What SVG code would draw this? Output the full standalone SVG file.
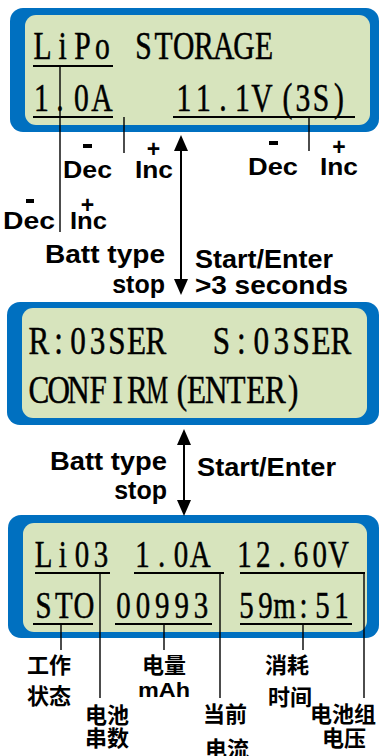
<svg xmlns="http://www.w3.org/2000/svg" width="380" height="756" viewBox="0 0 380 756">
<style>
.outer{fill:#0070C0}
.inner{fill:#D7E4BD}
.lcd{font-family:"Liberation Serif","Times New Roman",serif;fill:#000;stroke:#000;stroke-width:0.5;text-anchor:middle}
.ul{stroke:#000;stroke-width:2.2;fill:none}
.ln{stroke:#000;stroke-width:1.4;fill:none}
.lbl{font-family:"Liberation Sans",Arial,sans-serif;font-weight:bold;fill:#000}
.cjk{font-family:"Noto Sans CJK SC","Noto Sans",sans-serif;font-weight:bold;font-size:22px;fill:#000}
.arr{stroke:#000;stroke-width:2;fill:none;marker-start:url(#ah);marker-end:url(#ah)}
</style>
<defs>
<marker id="ah" viewBox="0 0 16 14" refX="2" refY="7" markerWidth="16" markerHeight="14" markerUnits="userSpaceOnUse" orient="auto-start-reverse">
<path d="M0,0 L16,7 L0,14 Z" fill="#000"/>
</marker>
</defs>

<g id="panel1">
<rect class="outer" x="10" y="8" width="369" height="124" rx="13"/>
<rect class="inner" x="25" y="15" width="345" height="110" rx="11"/>
<text class="lcd" transform="scale(0.76,1)" font-size="39" y="59" x="55.92 82.24 108.55 134.87">LiPo</text>
<text class="lcd" transform="scale(0.76,1)" font-size="39" y="59" x="188.82 215.26 241.71 268.16 294.47 320.92 347.37">STORAGE</text>
<text class="lcd" transform="scale(0.76,1)" font-size="39" y="111" x="54.61 78.95 107.24 134.21">1.0A</text>
<text class="lcd" transform="scale(0.76,1)" font-size="39" y="111" x="242.11 267.76 293.42 319.08 344.74 378.29 398.68 422.37 446.05">11.1V(3S)</text>
<line class="ul" x1="33" y1="66" x2="113" y2="66"/>
<line class="ul" x1="33" y1="117" x2="113" y2="117"/>
<line class="ul" x1="173" y1="117" x2="355" y2="117"/>
</g>

<g id="panel2">
<rect class="outer" x="7" y="302" width="372" height="123" rx="13"/>
<rect class="inner" x="22" y="308" width="345" height="110" rx="11"/>
<text class="lcd" transform="scale(0.76,1)" font-size="41" y="354" x="51.32 76.97 102.63 128.29 153.95 179.61 205.26">R:03SER</text>
<text class="lcd" transform="scale(0.76,1)" font-size="41" y="354" x="291.45 317.63 343.82 370.0 396.18 422.37 448.68">S:03SER</text>
<text class="lcd" transform="scale(0.76,1)" font-size="41" y="403" x="51.32 77.24 103.16 129.08 155.0 180.92">CONFIR</text>
<text class="lcd" transform="scale(0.6,1)" font-size="41" y="403" x="262.0">M</text>
<text class="lcd" transform="scale(0.76,1)" font-size="41" y="403" x="239.34 258.68 284.61 310.53 336.45 362.37 385.66">(ENTER)</text>
</g>

<g id="panel3">
<rect class="outer" x="8" y="515" width="371" height="123" rx="13"/>
<rect class="inner" x="23" y="523" width="344" height="109" rx="11"/>
<text class="lcd" transform="scale(0.76,1)" font-size="38" y="567" x="57.24 82.5 107.76 133.03">Li03</text>
<text class="lcd" transform="scale(0.76,1)" font-size="38" y="567" x="187.5 212.76 238.03 263.29">1.0A</text>
<text class="lcd" transform="scale(0.76,1)" font-size="38" y="567" x="321.71 346.45 371.18 395.92 420.66 445.39">12.60V</text>
<text class="lcd" transform="scale(0.76,1)" font-size="38" y="618" x="57.24 83.88 110.53">STO</text>
<text class="lcd" transform="scale(0.76,1)" font-size="38" y="618" x="162.5 188.03 213.55 239.08 264.61">00993</text>
<text class="lcd" transform="scale(0.76,1)" font-size="38" y="618" x="324.34 349.34 374.34 399.34 424.34 449.34">59m:51</text>
<line class="ul" x1="35" y1="573" x2="110" y2="573"/>
<line class="ul" x1="134" y1="573" x2="224" y2="573"/>
<line class="ul" x1="240" y1="573" x2="365" y2="573"/>
<line class="ul" x1="33" y1="624" x2="93" y2="624"/>
<line class="ul" x1="115" y1="624" x2="212" y2="624"/>
<line class="ul" x1="240" y1="624" x2="352" y2="624"/>
</g>

<g id="connectors">
<line class="ln" x1="60" y1="66" x2="60" y2="232"/>
<line class="ln" x1="124" y1="117" x2="124" y2="153"/>
<line class="ln" x1="309" y1="117" x2="309" y2="151"/>
<line class="arr" x1="181" y1="149" x2="181" y2="281"/>
<line class="arr" x1="184" y1="443" x2="184" y2="502"/>
<line class="ln" x1="100" y1="573" x2="100" y2="698"/>
<line class="ln" x1="220" y1="573" x2="220" y2="698"/>
<line class="ln" x1="364" y1="573" x2="364" y2="698"/>
<line class="ln" x1="61" y1="624" x2="61" y2="650"/>
<line class="ln" x1="164" y1="624" x2="164" y2="650"/>
<line class="ln" x1="303" y1="624" x2="303" y2="650"/>
</g>

<g id="labels1">
<rect x="83" y="144" width="9" height="4" fill="#000"/>
<text class="lbl" x="63" y="178" font-size="23" textLength="49" lengthAdjust="spacingAndGlyphs">Dec</text>
<text class="lbl" x="153.5" y="157" font-size="23" text-anchor="middle">+</text>
<text class="lbl" x="135" y="178" font-size="23" textLength="38" lengthAdjust="spacingAndGlyphs">Inc</text>
<rect x="269" y="141" width="9" height="4" fill="#000"/>
<text class="lbl" x="248" y="175" font-size="23" textLength="50" lengthAdjust="spacingAndGlyphs">Dec</text>
<text class="lbl" x="339" y="155" font-size="23" text-anchor="middle">+</text>
<text class="lbl" x="320" y="175" font-size="23" textLength="38" lengthAdjust="spacingAndGlyphs">Inc</text>
<rect x="26" y="199" width="8" height="4" fill="#000"/>
<text class="lbl" x="3" y="229" font-size="23" textLength="52" lengthAdjust="spacingAndGlyphs">Dec</text>
<text class="lbl" x="87.5" y="213" font-size="23" text-anchor="middle">+</text>
<text class="lbl" x="70" y="229" font-size="23" textLength="37" lengthAdjust="spacingAndGlyphs">Inc</text>
<text class="lbl" x="45" y="263" font-size="25" textLength="120" lengthAdjust="spacingAndGlyphs">Batt type</text>
<text class="lbl" x="165" y="293" font-size="25" text-anchor="end">stop</text>
<text class="lbl" x="195" y="268" font-size="25" textLength="138" lengthAdjust="spacingAndGlyphs">Start/Enter</text>
<text class="lbl" x="195" y="294" font-size="25" textLength="153" lengthAdjust="spacingAndGlyphs">&gt;3 seconds</text>
</g>

<g id="labels2">
<text class="lbl" x="50" y="470" font-size="25" textLength="117" lengthAdjust="spacingAndGlyphs">Batt type</text>
<text class="lbl" x="167" y="499" font-size="25" text-anchor="end">stop</text>
<text class="lbl" x="197" y="476" font-size="25" textLength="139" lengthAdjust="spacingAndGlyphs">Start/Enter</text>
</g>

<g id="labels3">
<text class="cjk" x="27" y="673">工作</text>
<text class="cjk" x="27" y="704">状态</text>
<text class="cjk" x="85" y="723">电池</text>
<text class="cjk" x="85" y="746">串数</text>
<text class="cjk" x="142" y="673">电量</text>
<text class="lbl" x="138" y="697" font-size="21" textLength="52" lengthAdjust="spacingAndGlyphs">mAh</text>
<text class="cjk" x="203" y="722">当前</text>
<text class="cjk" x="205" y="757">电流</text>
<text class="cjk" x="265" y="673">消耗</text>
<text class="cjk" x="268" y="705">时间</text>
<text class="cjk" x="310" y="722">电池组</text>
<text class="cjk" x="322" y="746">电压</text>
</g>
</svg>
